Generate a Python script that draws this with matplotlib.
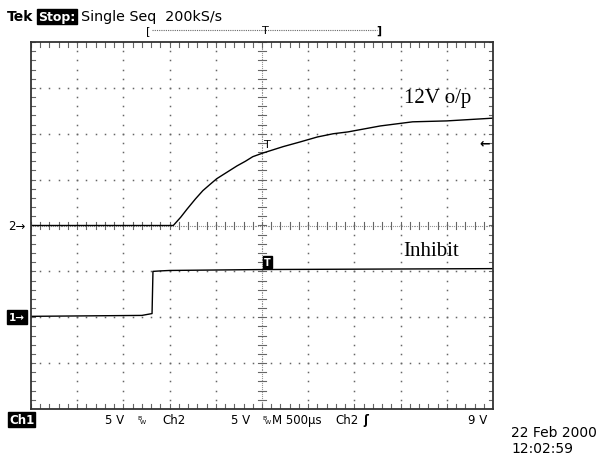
import numpy as np
import matplotlib
matplotlib.use("Agg")
import matplotlib.pyplot as plt
from matplotlib.lines import Line2D

# ---- data (time in ms relative to trigger, volts) ----
ch2_t = [-2.5, -0.96, -0.88, -0.81, -0.72, -0.64, -0.56, -0.49, -0.38, -0.27, -0.18,
         -0.10, 0.01, 0.23, 0.41, 0.60, 0.77, 0.93, 1.28, 1.63, 2.00, 2.50]
ch2_v = [0.0, 0.0, 0.9, 1.8, 2.9, 3.8, 4.5, 5.1, 5.8, 6.5, 7.0,
         7.5, 7.9, 8.6, 9.1, 9.65, 10.0, 10.2, 10.85, 11.3, 11.4, 11.7]
ch1_t = [-2.5, -1.30, -1.19, -1.18, -1.10, -1.00, 0.0, 2.5]
ch1_v = [0.1, 0.2, 0.4, 5.0, 5.05, 5.1, 5.2, 5.3]

volts_per_div = 5.0
ch2_offset_div = 0.0
ch1_offset_div = -2.0
time_per_div = 0.5  # ms
trigger_level = 9.0

W, H = 599, 456
fig = plt.figure(figsize=(W / 100, H / 100), dpi=100)
fig.patch.set_facecolor("white")

L, T, R, B = 31, 43, 493, 410
ax = fig.add_axes([L / W, 1 - B / H, (R - L) / W, (B - T) / H])
ax.set_xlim(-5 * time_per_div, 5 * time_per_div)
ax.set_ylim(-4, 4)
ax.set_xticks([]); ax.set_yticks([])
for s in ax.spines.values():
    s.set_color("#333333"); s.set_linewidth(1.3)

gc = "#666666"
# dotted graticule
for i in range(-4, 5):
    xs = np.arange(-2.5, 2.5001, 0.1)
    if i not in (0, -4, 4):
        ax.plot(xs, np.full_like(xs, i), ls="none", marker="s", ms=1.1, mew=0, color=gc)
for j in range(-5, 6):
    x = j * time_per_div
    ys = np.arange(-4, 4.0001, 0.2)
    if j not in (0, -5, 5):
        ax.plot(np.full_like(ys, x), ys, ls="none", marker="s", ms=1.1, mew=0, color=gc)
# center lines with ticks
xs = np.arange(-2.5, 2.5001, 0.02)
ax.plot(xs, np.zeros_like(xs), ls="none", marker="s", ms=0.8, mew=0, color="#999999")
ys = np.arange(-4, 4.0001, 0.04)
ax.plot(np.zeros_like(ys), ys, ls="none", marker="s", ms=0.8, mew=0, color="#999999")
for xv in np.arange(-2.5, 2.5001, 0.1):
    ax.plot([xv, xv], [-0.08, 0.08], color=gc, lw=0.8)
    ax.plot([xv, xv], [-4, -3.9], color=gc, lw=0.8)
    ax.plot([xv, xv], [4, 3.9], color=gc, lw=0.8)
for yv in np.arange(-4, 4.0001, 0.2):
    ax.plot([-0.04, 0.04], [yv, yv], color=gc, lw=0.8)
    ax.plot([-2.5, -2.46], [yv, yv], color=gc, lw=0.8)
    ax.plot([2.5, 2.46], [yv, yv], color=gc, lw=0.8)

# traces
ax.plot(ch2_t, np.array(ch2_v) / volts_per_div + ch2_offset_div, color="black", lw=1.0)
ax.plot(ch1_t, np.array(ch1_v) / volts_per_div + ch1_offset_div, color="black", lw=1.0)

# trace labels
ax.text(1.54, 2.70, "12V o/p", family="Liberation Serif", fontsize=15, ha="left", va="baseline")
ax.text(1.53, -0.65, "Inhibit", family="Liberation Serif", fontsize=15, ha="left", va="baseline")

# trigger markers on traces
ax.text(0.06, 1.78, "T", fontsize=8, family="DejaVu Sans", ha="center", va="center")
ax.text(0.06, -0.80, "T", fontsize=7, family="DejaVu Sans", weight="bold", color="white",
        ha="center", va="center",
        bbox=dict(boxstyle="square,pad=0.1", fc="black", ec="black"))

def px(x, y):
    return x / W, 1 - y / H

mono = "DejaVu Sans"
fs = 8.5
# top status line
fig.text(*px(7, 21), "Tek", fontsize=10, weight="bold", family=mono, va="baseline")
fig.text(*px(38, 21), "Stop:", fontsize=9, weight="bold", family=mono, color="white", va="baseline",
         bbox=dict(boxstyle="square,pad=0.1", fc="black", ec="black"))
fig.text(*px(81, 21), "Single Seq  200kS/s", fontsize=10.3, family=mono, va="baseline")
# record bar
by_bar = 31
fig.text(*px(146, by_bar), "[", fontsize=8, family=mono, va="center")
fig.text(*px(376, by_bar), "]", fontsize=8, family=mono, va="center", weight="bold")
fig.add_artist(Line2D([152 / W, 377 / W], [1 - by_bar / H, 1 - by_bar / H], color="#666666",
                      lw=0.8, ls=(0, (1, 1))))
fig.text(*px(265, by_bar), "T", fontsize=8, family=mono, va="center", ha="center")

# left channel markers
fig.text(*px(8, 227), "2\u2192", fontsize=fs, family=mono, va="center")
fig.text(*px(9, 318), "1\u2192", fontsize=fs - 1, weight="bold", family=mono, color="white", va="center",
         bbox=dict(boxstyle="square,pad=0.15", fc="black", ec="black"))
# right trigger level marker
ax.text(2.47, trigger_level / volts_per_div + ch2_offset_div, "\u2190", fontsize=9, weight="bold",
        family=mono, ha="right", va="center")

# bottom status line
by = 424
fig.text(*px(9, by), "Ch1", fontsize=fs, weight="bold", family=mono, color="white", va="baseline",
         bbox=dict(boxstyle="square,pad=0.1", fc="black", ec="black"))
fig.text(*px(105, by), "5 V", fontsize=fs, family=mono, va="baseline")
fig.text(*px(137, by - 4), "B", fontsize=4.5, family=mono, va="baseline")
fig.text(*px(140, by), "W", fontsize=4.5, family=mono, va="baseline")
fig.text(*px(162, by), "Ch2", fontsize=fs, family=mono, va="baseline")
fig.text(*px(231, by), "5 V", fontsize=fs, family=mono, va="baseline")
fig.text(*px(262, by - 4), "B", fontsize=4.5, family=mono, va="baseline")
fig.text(*px(265, by), "W", fontsize=4.5, family=mono, va="baseline")
fig.text(*px(272, by), "M 500\u00b5s", fontsize=fs, family=mono, va="baseline")
fig.text(*px(335, by), "Ch2", fontsize=fs, family=mono, va="baseline")
fig.text(*px(363, by), "\u0283", fontsize=fs, family=mono, va="baseline", weight="bold")
fig.text(*px(468, by), "9 V", fontsize=fs, family=mono, va="baseline")
fig.text(*px(511, 437), "22 Feb 2000", fontsize=10, family=mono, va="baseline")
fig.text(*px(511, 453), "12:02:59", fontsize=10, family=mono, va="baseline")

fig.savefig("out.png", dpi=100)
